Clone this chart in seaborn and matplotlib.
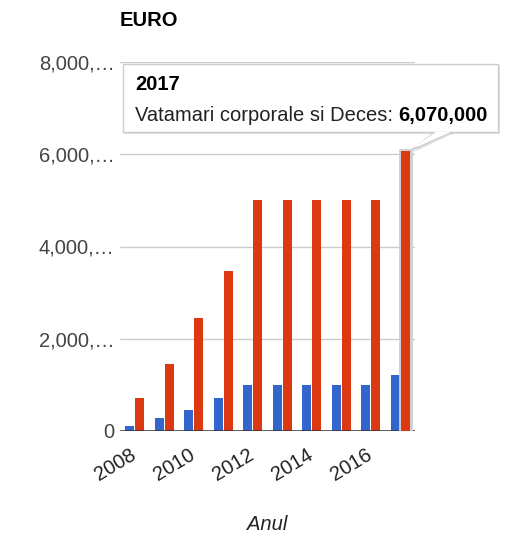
import matplotlib
matplotlib.use("Agg")
import matplotlib.pyplot as plt
import seaborn as sns
import pandas as pd
from matplotlib.patches import Rectangle, Polygon
from matplotlib.ticker import FuncFormatter

years = [2008, 2009, 2010, 2011, 2012, 2013, 2014, 2015, 2016, 2017]
daune_materiale = [110000, 280000, 450000, 720000, 1000000, 1000000, 1000000, 1000000, 1000000, 1220000]
vatamari_deces = [720000, 1450000, 2460000, 3470000, 5000000, 5000000, 5000000, 5000000, 5000000, 6070000]
series_names = ['Daune materiale', 'Vatamari corporale si Deces']
y_ticks = [0, 2000000, 4000000, 6000000, 8000000]

colors = {'Daune materiale': '#3366cc', 'Vatamari corporale si Deces': '#dc3912'}

df = pd.DataFrame({
    'Anul': [str(y) for y in years] * 2,
    'Valoare': daune_materiale + vatamari_deces,
    'Serie': [series_names[0]] * len(years) + [series_names[1]] * len(years),
})

sns.set_style("white")
plt.rcParams['font.family'] = ['Liberation Sans', 'DejaVu Sans']

W, H = 523, 555
fig = plt.figure(figsize=(W / 100, H / 100), dpi=100)
ax = fig.add_axes([120 / W, 1 - 431 / H, (415 - 120) / W, (431 - 62) / H])

sns.barplot(data=df, x='Anul', y='Valoare', hue='Serie', palette=colors,
            width=0.7, gap=0.14, ax=ax, legend=False, saturation=1, linewidth=0)

ax.set_ylim(0, 8000000)
ax.set_xlim(-0.5, len(years) - 0.5)
ax.set_yticks(y_ticks)
ax.yaxis.set_major_formatter(FuncFormatter(lambda v, p: '0' if v == 0 else f'{v:,.0f}'[:6] + '\u2026'))
ax.grid(axis='y', color='#cccccc', linewidth=1)
ax.set_axisbelow(True)
for s in ax.spines.values():
    s.set_visible(False)
ax.axhline(0, color='#333333', linewidth=1.8, zorder=5)

ax.set_xticks(range(0, len(years), 2))
ax.set_xticklabels([str(y) for y in years[::2]], rotation=31, ha='right', va='center',
                   rotation_mode='anchor')
ax.tick_params(axis='x', length=0, pad=16, labelsize=14.5, labelcolor='#222222')
ax.tick_params(axis='y', length=0, pad=4, labelsize=14.5, labelcolor='#444444')

ax.set_ylabel('')
ax.set_xlabel('Anul', fontsize=14.5, style='italic', color='#222222')
ax.xaxis.set_label_coords(0.5, (431 - 515) / (431 - 62))

fig.text(120 / W, 1 - 21 / H, 'EURO', fontsize=14.5, fontweight='bold', va='center', ha='left', color='#000000')

# bara evidentiata (hover) - ultima bara din seria a doua, cu un halo gri in spate
hl = ax.patches[2 * len(years) - 1]
hl.set_zorder(6)
halo = Rectangle((hl.get_x(), 0), hl.get_width(), hl.get_height(), facecolor='none',
                 edgecolor='#cfcfcf', linewidth=3.5, zorder=5.5)
ax.add_patch(halo)

# tooltip
fig.canvas.draw()
tip_disp = ax.transData.transform((hl.get_x() + hl.get_width(), vatamari_deces[-1]))
tip = fig.transFigure.inverted().transform(tip_disp)

bx0, bx1, by0, by1 = 123, 498, 64, 132
fx = lambda px: px / W
fy = lambda py: 1 - py / H

shadow = Rectangle((fx(bx0 + 1), fy(by1 + 2)), fx(bx1 - bx0 + 1), (by1 - by0) / H,
                   transform=fig.transFigure, facecolor='#000000', alpha=0.12, edgecolor='none', zorder=9)
fig.patches.append(shadow)
ptr_shadow = Polygon([(fx(436), fy(by1 + 1)), (fx(454), fy(by1 + 1)), (tip[0] + 2 / W, tip[1] - 2 / H)],
                     closed=True, transform=fig.transFigure, facecolor='#000000', alpha=0.12,
                     edgecolor='none', zorder=9)
fig.patches.append(ptr_shadow)
box = Rectangle((fx(bx0), fy(by1)), fx(bx1 - bx0), (by1 - by0) / H,
                transform=fig.transFigure, facecolor='white', edgecolor='#cccccc', linewidth=1, zorder=10)
fig.patches.append(box)
ptr = Polygon([(fx(435), fy(by1)), (tip[0], tip[1]), (fx(452), fy(by1))],
              closed=False, transform=fig.transFigure, facecolor='white', edgecolor='#cccccc',
              linewidth=1, zorder=11)
fig.patches.append(ptr)
ptr_cover = Polygon([(fx(436), fy(by1)), (fx(451), fy(by1)), (tip[0] + 0.5 / W, tip[1] + 2 / H)],
                    closed=True, transform=fig.transFigure, facecolor='white', edgecolor='none', zorder=12)
fig.patches.append(ptr_cover)

fig.text(fx(135), fy(90.5), str(years[-1]), fontsize=14.5, fontweight='bold', ha='left', va='baseline',
         color='#000000', zorder=13)
t1 = fig.text(fx(135), fy(121), series_names[1] + ': ', fontsize=14.5, ha='left', va='baseline',
              color='#222222', zorder=13)
fig.canvas.draw()
bb = t1.get_window_extent()
x_after = fig.transFigure.inverted().transform((bb.x1, bb.y0))[0]
fig.text(x_after, fy(121), f'{vatamari_deces[-1]:,}', fontsize=14.5, fontweight='bold', ha='left',
         va='baseline', color='#000000', zorder=13)

fig.savefig('out.png', dpi=100)
